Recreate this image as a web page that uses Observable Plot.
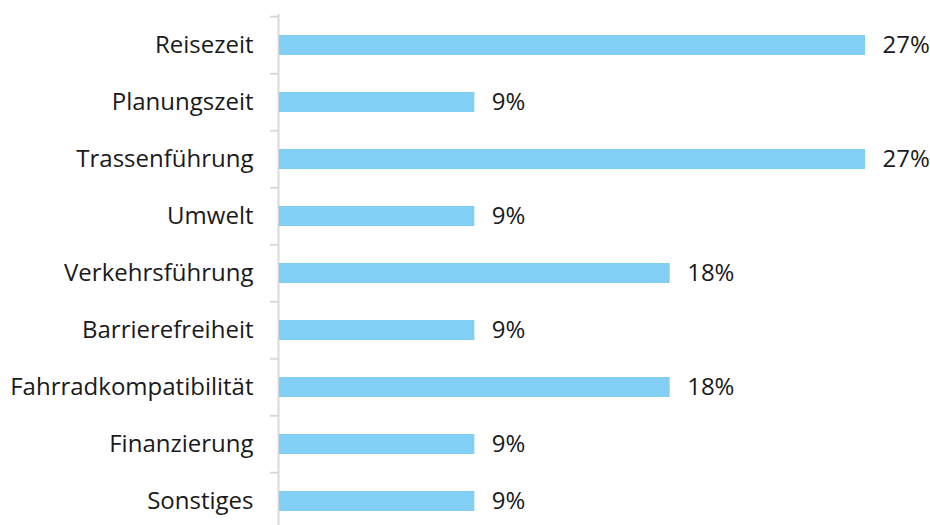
<!DOCTYPE html>
<html>
<head>
<meta charset="utf-8">
<script src="https://cdn.jsdelivr.net/npm/d3@7"></script>
<script src="https://cdn.jsdelivr.net/npm/@observablehq/plot@0.6"></script>
<style>
  html, body { margin: 0; padding: 0; background: #fff; }
  #chart { width: 930px; height: 525px; overflow: hidden; }
</style>
</head>
<body>
<div id="chart"></div>
<script>
const categories = ["Reisezeit", "Planungszeit", "Trassenführung", "Umwelt", "Verkehrsführung", "Barrierefreiheit", "Fahrradkompatibilität", "Finanzierung", "Sonstiges"];
const values = [27, 9, 27, 9, 18, 9, 18, 9, 9];
const data = categories.map((c, i) => ({category: c, value: values[i]}));

const step = 57.5;
const fs = 24;
const chart = Plot.plot({
  width: 930,
  height: 525,
  marginLeft: 279,
  marginRight: 65,
  marginTop: 14,
  marginBottom: -6.5,
  style: {fontFamily: "'Open Sans', sans-serif", fontSize: fs + "px", color: "#1a1a1a", background: "#fff", overflow: "visible"},
  x: {domain: [0, 27], axis: null},
  y: {domain: categories, paddingInner: 0.652, paddingOuter: 0.326, label: null},
  marks: [
    Plot.axisY({tickSize: 0, tickPadding: 26, fontSize: fs, fill: "#1a1a1a", label: null}),
    Plot.axisY({tickSize: 9, text: null, dy: -step / 2, stroke: "#d9d9d9", strokeWidth: 2, label: null}),
    Plot.ruleX([0], {stroke: "#d9d9d9", strokeWidth: 2, dx: -1}),
    Plot.barX(data, {x: "value", y: "category", fill: "#81CFF4"}),
    Plot.text(data, {x: "value", y: "category", text: d => `${d.value}%`, dx: 17, textAnchor: "start", fontSize: fs, fill: "#1a1a1a"})
  ]
});
document.getElementById("chart").appendChild(chart);
</script>
</body>
</html>
